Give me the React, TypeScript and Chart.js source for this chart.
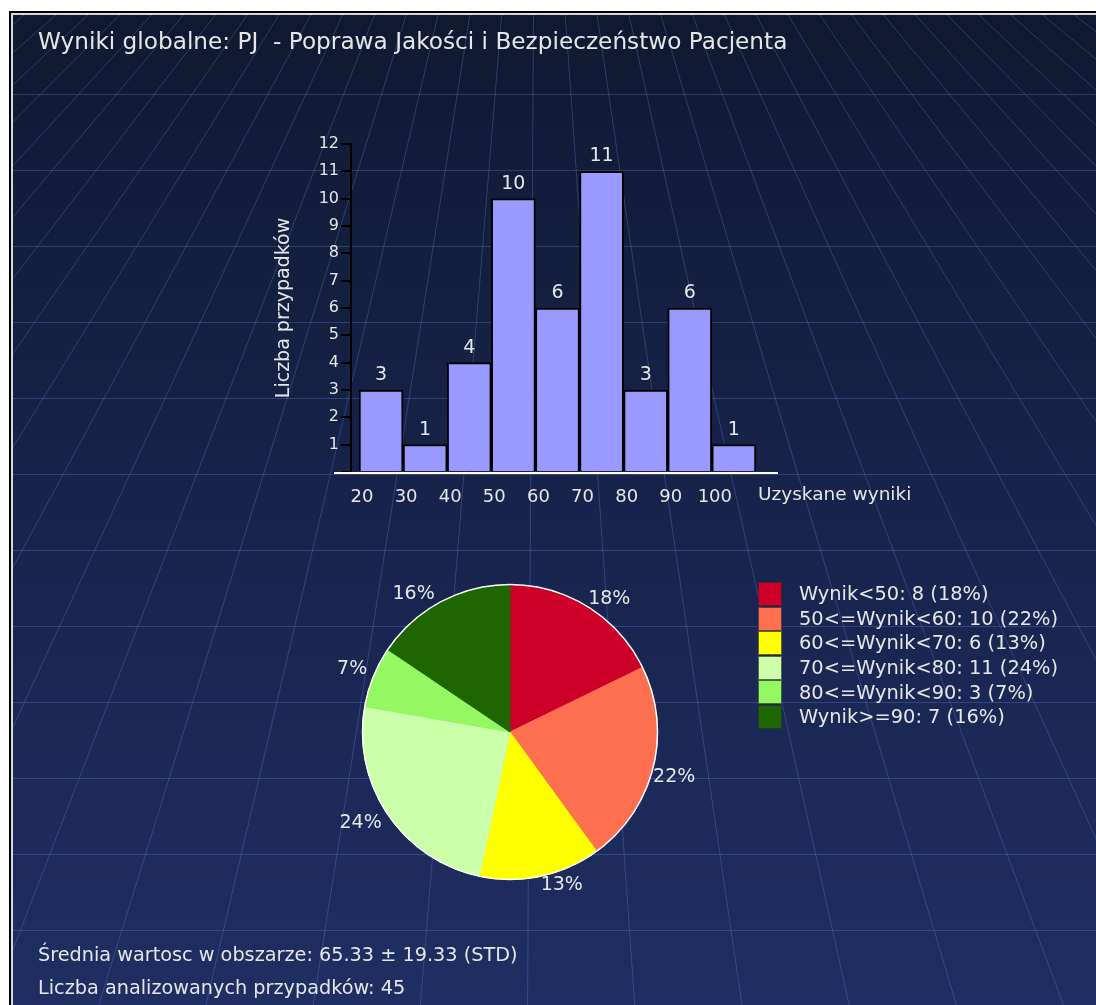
import React, { useEffect, useRef } from 'react';
import { Chart, registerables } from 'chart.js';

Chart.register(...registerables);

const FONT = '"DejaVu Sans", Verdana, sans-serif';
const TEXT = '#e6e6e6';

// ---- Histogram data ----
const binStarts = [20, 30, 40, 50, 60, 70, 80, 90, 100];
const binCounts = [3, 1, 4, 10, 6, 11, 3, 6, 1];
const binWidth = 10;
const xTickValues = [20, 30, 40, 50, 60, 70, 80, 90, 100];
const yMax = 12;

// ---- Pie data ----
const pieLabels = ['Wynik<50', '50<=Wynik<60', '60<=Wynik<70', '70<=Wynik<80', '80<=Wynik<90', 'Wynik>=90'];
const pieCounts = [8, 10, 6, 11, 3, 7];
const pieColors = ['#cc0029', '#ff7050', '#ffff00', '#ccffaa', '#94f862', '#1f6600'];

// ---- Texts ----
const titleText = 'Wyniki globalne: PJ  - Poprawa Jakości i Bezpieczeństwo Pacjenta';
const yAxisTitle = 'Liczba przypadków';
const xAxisTitle = 'Uzyskane wyniki';
const meanText = 'Średnia wartosc w obszarze: 65.33 ± 19.33 (STD)';
const countText = 'Liczba analizowanych przypadków: 45';

const pieTotal = pieCounts.reduce((a, b) => a + b, 0);
const piePct = pieCounts.map((c) => Math.round((c / pieTotal) * 100));

const barPlugin = {
  id: 'barExtras',
  afterDatasetsDraw(chart: any) {
    const { ctx } = chart;
    const x = chart.scales.x;
    const y = chart.scales.y;
    ctx.save();
    ctx.strokeStyle = '#ffffff';
    ctx.lineWidth = 2;
    const by = y.getPixelForValue(0) + 1;
    ctx.beginPath();
    ctx.moveTo(x.left - 17, by);
    ctx.lineTo(x.right, by);
    ctx.stroke();
    ctx.fillStyle = TEXT;
    ctx.font = `19px ${FONT}`;
    ctx.textAlign = 'center';
    ctx.textBaseline = 'alphabetic';
    chart.getDatasetMeta(0).data.forEach((el: any, i: number) => {
      ctx.fillText(String(binCounts[i]), el.x, el.y - 10);
    });
    ctx.restore();
  },
};

const piePlugin = {
  id: 'pieExtras',
  afterDatasetsDraw(chart: any) {
    const { ctx } = chart;
    const arcs = chart.getDatasetMeta(0).data;
    if (!arcs.length) return;
    const a0 = arcs[0];
    ctx.save();
    ctx.strokeStyle = '#ffffff';
    ctx.lineWidth = 1.5;
    ctx.beginPath();
    ctx.arc(a0.x, a0.y, a0.outerRadius, 0, Math.PI * 2);
    ctx.stroke();
    ctx.font = `19px ${FONT}`;
    ctx.fillStyle = TEXT;
    ctx.textBaseline = 'alphabetic';
    arcs.forEach((a: any, i: number) => {
      const mid = (a.startAngle + a.endAngle) / 2;
      const c = Math.cos(mid);
      const s = Math.sin(mid);
      let px = a.x + c * a.outerRadius;
      let py = a.y + s * a.outerRadius;
      if (c >= 0) {
        ctx.textAlign = 'left';
      } else {
        ctx.textAlign = 'right';
        px -= 6;
      }
      if (s >= 0) py += 14;
      else py -= 3;
      ctx.fillText(piePct[i] + '%', px, py);
    });
    ctx.restore();
  },
};

function drawBackground(cv: HTMLCanvasElement, offX: number, offY: number) {
  const g = cv.getContext('2d');
  if (!g) return;
  const w = cv.width;
  const h = cv.height;
  const grad = g.createLinearGradient(0, 0, 0, h);
  grad.addColorStop(0, '#111931');
  grad.addColorStop(0.5, '#17234c');
  grad.addColorStop(1, '#1f2f63');
  g.fillStyle = grad;
  g.fillRect(0, 0, w, h);
  g.strokeStyle = 'rgba(95,125,205,0.35)';
  g.lineWidth = 1;
  for (let k = 0; k < 13; k++) {
    const y = 94 + 76 * k - offY + 0.5;
    g.beginPath();
    g.moveTo(0, y);
    g.lineTo(w, y);
    g.stroke();
  }
  const xv = 536;
  const yv = -403;
  for (let n = -22; n <= 22; n++) {
    const x930 = 528 + 101.5 * n;
    const yTop = 15;
    const yBot = 1005;
    const xt = xv + (x930 - xv) * (yTop - yv) / (930 - yv);
    const xb = xv + (x930 - xv) * (yBot - yv) / (930 - yv);
    g.beginPath();
    g.moveTo(xt - offX, yTop - offY);
    g.lineTo(xb - offX, yBot - offY);
    g.stroke();
  }
}

const textStyle = (left: number, baseline: number, size: number): React.CSSProperties => ({
  position: 'absolute',
  left,
  top: baseline - 0.846 * size,
  font: `${size}px ${FONT}`,
  lineHeight: 1,
  color: TEXT,
  whiteSpace: 'pre',
});

export default function App() {
  const bgRef = useRef<HTMLCanvasElement>(null);
  const barRef = useRef<HTMLCanvasElement>(null);
  const pieRef = useRef<HTMLCanvasElement>(null);

  useEffect(() => {
    if (bgRef.current) drawBackground(bgRef.current, 13, 15);

    const bar = new Chart(barRef.current as HTMLCanvasElement, {
      type: 'bar',
      data: {
        datasets: [
          {
            data: binStarts.map((s, i) => ({ x: s + binWidth / 2, y: binCounts[i] })),
            backgroundColor: '#9999ff',
            borderColor: '#000000',
            borderWidth: 2,
            barPercentage: 1,
            categoryPercentage: 1,
          },
        ],
      },
      options: {
        animation: false,
        responsive: false,
        layout: { padding: { left: 9, top: 24, right: 22, bottom: 0 } },
        plugins: { legend: { display: false }, tooltip: { enabled: false } },
        scales: {
          x: {
            type: 'linear',
            offset: false,
            min: 18.19,
            max: 115,
            afterBuildTicks: (s: any) => {
              s.ticks = xTickValues.map((v) => ({ value: v }));
            },
            afterFit: (s: any) => {
              s.height = 48;
            },
            grid: { display: false, offset: false },
            border: { display: false },
            ticks: {
              color: TEXT,
              font: { family: FONT, size: 18 },
              padding: 7,
              labelOffset: 3,
              maxRotation: 0,
              autoSkip: false,
              callback: (v: any) => String(v),
            },
          },
          y: {
            min: 0,
            max: yMax,
            afterFit: (s: any) => {
              s.width = 82;
            },
            ticks: {
              stepSize: 1,
              color: TEXT,
              font: { family: FONT, size: 16 },
              padding: 2,
              callback: (v: any) => (v === 0 ? '' : String(v)),
            },
            grid: {
              drawOnChartArea: false,
              drawTicks: true,
              tickLength: 10,
              color: '#000000',
              lineWidth: 2,
            },
            border: { display: true, color: '#000000', width: 2 },
            title: {
              display: true,
              text: yAxisTitle,
              color: TEXT,
              font: { family: FONT, size: 19 },
              padding: { top: 4, bottom: 0 },
            },
          },
        },
      } as any,
      plugins: [barPlugin],
    });

    const pie = new Chart(pieRef.current as HTMLCanvasElement, {
      type: 'pie',
      data: {
        labels: pieLabels,
        datasets: [
          {
            data: pieCounts,
            backgroundColor: pieColors,
            borderColor: pieColors,
            borderWidth: 1,
          },
        ],
      },
      options: {
        animation: false,
        responsive: false,
        layout: { padding: { left: 62, top: 44, right: 62, bottom: 60 } },
        plugins: { legend: { display: false }, tooltip: { enabled: false } },
      } as any,
      plugins: [piePlugin],
    });

    return () => {
      bar.destroy();
      pie.destroy();
    };
  }, []);

  return (
    <div
      style={{
        position: 'fixed',
        left: 0,
        top: 0,
        width: 1096,
        height: 1005,
        background: '#ffffff',
        overflow: 'hidden',
      }}
    >
      <div style={{ position: 'absolute', left: 9, top: 11, width: 1200, height: 1100, borderLeft: '2px solid #000', borderTop: '2px solid #000' }} />
      <div style={{ position: 'absolute', left: 11, top: 13, width: 1200, height: 1100, borderLeft: '2px solid #d8d8d8', borderTop: '2px solid #d8d8d8' }} />
      <canvas ref={bgRef} width={1083} height={990} style={{ position: 'absolute', left: 13, top: 15, width: 1083, height: 990 }} />
      <div style={textStyle(38, 49, 23.2)}>{titleText}</div>
      <canvas ref={barRef} width={540} height={400} style={{ position: 'absolute', left: 260, top: 120, width: 540, height: 400 }} />
      <div style={textStyle(758, 501, 18.5)}>{xAxisTitle}</div>
      <canvas ref={pieRef} width={420} height={400} style={{ position: 'absolute', left: 300, top: 540, width: 420, height: 400 }} />
      {pieLabels.map((lab, i) => (
        <React.Fragment key={lab}>
          <div
            style={{
              position: 'absolute',
              left: 758,
              top: 582 + 24.6 * i,
              width: 24,
              height: 24,
              boxSizing: 'border-box',
              background: pieColors[i],
              border: '1px solid rgba(40,40,40,0.7)',
            }}
          />
          <div style={textStyle(799, 600.7 + 24.6 * i, 19.4)}>{`${lab}: ${pieCounts[i]} (${piePct[i]}%)`}</div>
        </React.Fragment>
      ))}
      <div style={textStyle(38, 961, 19.25)}>{meanText}</div>
      <div style={textStyle(38, 994, 19.25)}>{countText}</div>
    </div>
  );
}
